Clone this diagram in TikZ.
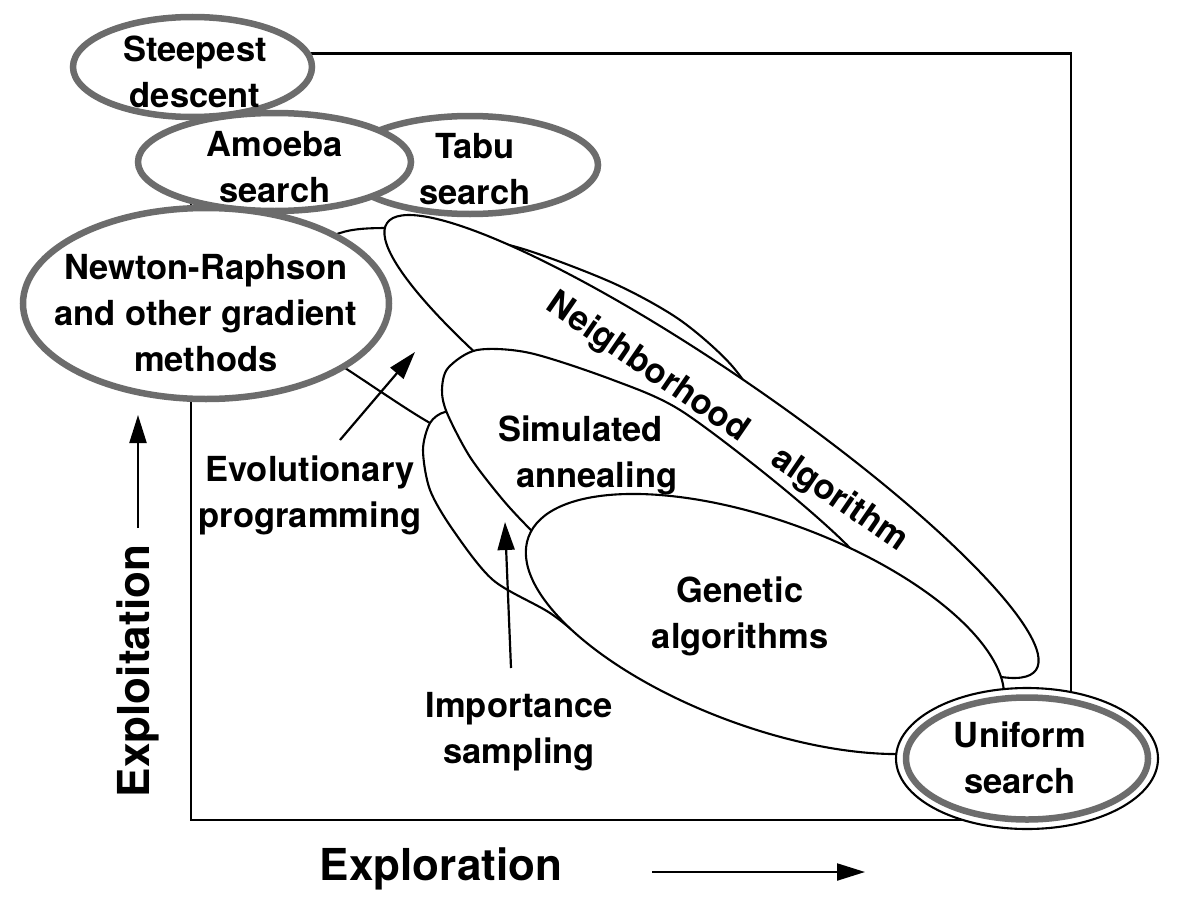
\documentclass[tikz,border=0pt]{standalone}
\usepackage{fontspec}
\setmainfont{TeX Gyre Heros}
\usetikzlibrary{arrows.meta}
\definecolor{ringgray}{RGB}{108,108,108}
\begin{document}
\begin{tikzpicture}[x=1pt,y=-1pt,
  regionline/.style={line width=2.1pt, draw=black, fill=white},
  grayell/.style={line width=6.5pt, draw=ringgray, fill=white},
  lbl/.style={font=\fontsize{34.5}{46}\selectfont\bfseries, align=center, inner sep=0pt},
  axislbl/.style={font=\fontsize{44}{52}\selectfont\bfseries, inner sep=0pt},
  arr/.style={line width=2.2pt, -{Triangle[length=28pt,width=17pt]}}]
\useasboundingbox (0,0) rectangle (1188,907);

% frame of the plot
\draw[line width=2.1pt] (190.7,53.5) rectangle (1071,820);

% Evolutionary programming region (back)
\draw[regionline] plot[smooth cycle] coordinates {(285,262) (340,233) (385,228) (440,232) (520,248) (613,283) (680,320) (733,367) (765,420) (760,470) (700,500) (600,490) (500,455) (430,423) (345,368) (285,330)};
% Importance sampling region
\draw[regionline] plot[smooth cycle] coordinates {(445,412) (430,423) (423,450) (430,490) (453,530) (493,580) (550,613) (600,650) (700,703) (800,728) (880,725) (900,680) (820,610) (700,540) (600,480) (520,430) (470,414)};
% Neighborhood algorithm
\draw[regionline, rotate around={-34.56:(711.5,446.5)}] (711.5,446.5) ellipse [x radius=394pt, y radius=73pt];
% Simulated annealing
\draw[regionline] plot[smooth cycle] coordinates {(448,368) (477,350) (530,353) (613,380) (680,410) (773,480) (850,548) (920,630) (900,680) (800,660) (650,600) (560,555) (533,532) (503,500) (470,457) (447,413) (442,390)};
% Genetic algorithms
\draw[regionline, rotate around={-20.2:(765,624)}] (765,624) ellipse [x radius=252pt, y radius=103pt];

% Uniform search
\draw[line width=2.1pt, fill=white] (1027,758.5) ellipse [x radius=131pt, y radius=70.5pt];
\draw[line width=6.5pt, draw=ringgray] (1027,758.5) ellipse [x radius=121pt, y radius=61pt];

% gray method ellipses
\draw[grayell] (470,165) ellipse [x radius=128pt, y radius=49pt];
\draw[grayell] (274.5,162) ellipse [x radius=136.5pt, y radius=49pt];
\draw[grayell] (206,303.5) ellipse [x radius=183pt, y radius=95.5pt];
\draw[grayell] (192.5,67) ellipse [x radius=119.5pt, y radius=50pt];

% labels
\node[lbl] (steep) at (195,72) {Steepest\\descent};
\node[lbl] (amoeba) at (275,167.5) {Amoeba\\search};
\node[lbl] (tabu) at (475,169) {Tabu\\search};
\node[lbl] (newton) at (206,313.5) {Newton-Raphson\\and other gradient\\methods};
\node[lbl, anchor=west, align=left] (sa) at (498,455.5) {Simulated\\\hspace*{18pt}annealing};
\node[lbl] (ga) at (740,616) {Genetic\\algorithms};
\node[lbl] (evo) at (310,495.5) {Evolutionary\\programming};
\node[lbl] (imp) at (519,731.5) {Importance\\sampling};
\node[lbl] (unif) at (1020,758) {Uniform\\search};
\node[lbl, rotate=-34.5] (nbh) at (727,423) {Neighborhood\hspace{1.05em}algorithm};
\node[axislbl, anchor=base] (xlbl) at (441,880) {Exploration};
\node[axislbl, anchor=base, rotate=90] (ylbl) at (149,671) {Exploitation};

% arrows
\coordinate (exA) at (652,872);
\coordinate (exB) at (865,872);
\coordinate (eiA) at (138,528);
\coordinate (eiB) at (138,415);
\coordinate (evoTail) at (340,440);
\coordinate (evoTip) at (415,352);
\coordinate (impTail) at (511,668);
\coordinate (impTip) at (505,522);
\draw[arr] (exA) -- (exB);
\draw[arr] (eiA) -- (eiB);
\draw[arr] (evoTail) -- (evoTip);
\draw[arr] (impTail) -- (impTip);
\end{tikzpicture}
\end{document}
